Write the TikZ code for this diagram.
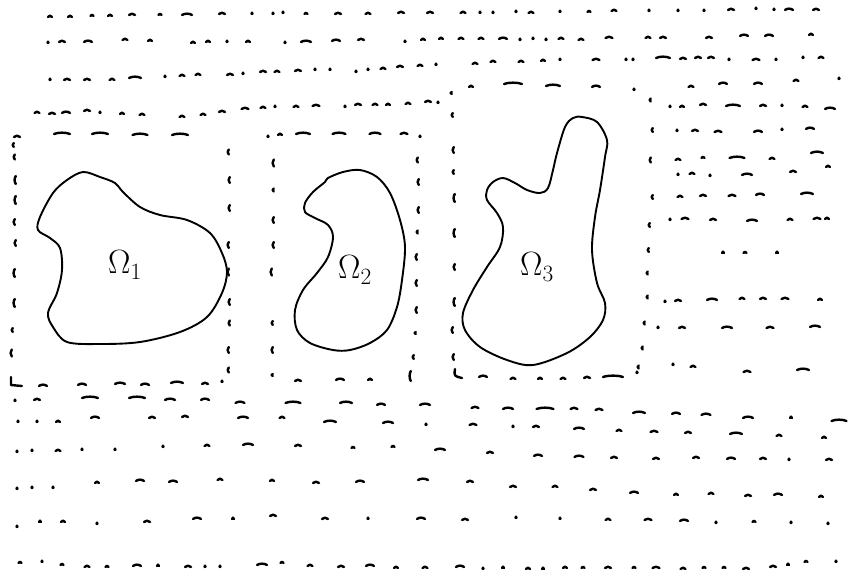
\documentclass[tikz,border=0pt]{standalone}
\begin{document}
\begin{tikzpicture}[x=1pt,y=-1pt,
  mk/.style={line width=2.4pt,line cap=round,line join=round},
  outline/.style={line width=1.9pt,line join=round},
  lbl/.style={font=\fontsize{24}{28}\selectfont,inner sep=0pt}]
\useasboundingbox[fill=white] (0,0) rectangle (850,571);
% ---------- horizontal dash marks (x/y/width) ----------
\foreach \x/\y/\w in {
 % row 1
 50/17/4, 70/17/4, 92/16/3, 110/16/4, 132/15/6, 160/15/3, 187/15/10, 222/14/6, 252/14/1, 273/14/1, 283/13/1, 306/14/3, 338/14/6, 368/14/5, 401/13/6, 430/13/6, 463/13/5, 480/13/1, 493/13/1, 516/12/1, 531/13/5, 560/12/1, 589/12/3, 614/11/5, 649/11/1, 678/11/1, 704/11/1, 731/10/6, 756/9/1, 774/10/1, 789/10/8, 816/10/6,
 % row 2
 48/43/1, 62/42/6, 88/42/8, 125/40/5, 150/41/4, 193/43/4, 208/42/4, 227/42/1, 248/42/4, 285/43/1, 306/42/10, 336/41/8, 361/40/6, 405/42/1, 423/40/4, 441/39/4, 461/39/5, 481/39/5, 503/39/8, 520/40/1, 533/39/1, 546/40/1, 561/39/5, 581/40/5, 609/38/7, 648/38/5, 663/38/6, 709/38/6, 744/36/8, 769/36/8, 811/35/4,
 % row 3
 50/80/1, 67/80/6, 87/80/6, 112/80/5, 135/78/12, 165/77/1, 182/76/5, 198/75/5, 230/75/6, 243/74/1, 263/72/6, 277/72/5, 298/71/6, 315/70/1, 330/70/1, 356/72/1, 368/70/1, 383/69/5, 400/67/6, 420/66/5, 436/65/1, 475/64/5, 493/62/5, 521/62/5, 543/61/4, 560/60/1, 596/60/7, 626/60/1, 633/60/1, 663/58/14, 683/59/6, 698/58/6, 711/58/6, 729/60/1, 756/60/7, 776/60/1, 803/58/1, 821/58/5,
 % row 4 left
 37/113/5, 52/114/6, 66/113/8, 87/111/6, 100/113/1, 122/114/4, 142/115/5, 182/117/5, 203/115/5, 222/112/6, 245/109/7, 263/108/5, 275/107/1, 296/107/5, 316/106/7, 345/107/1, 358/105/6, 375/105/5, 388/105/4, 408/104/5, 428/102/6, 438/103/1,
 % row 4 right
 471/87/4, 513/84/18, 553/86/14, 596/87/8, 634/90/1, 691/87/5, 723/84/8, 758/84/8, 796/81/5, 839/79/1,
 % right region
 670/107/1, 682/107/4, 703/105/6, 733/106/14, 763/106/6, 782/106/1, 805/107/5, 830/109/10,
 677/131/1, 695/131/6, 718/132/7, 758/132/8, 782/130/1, 810/129/8,
 678/160/5, 703/158/3, 737/158/15, 772/159/5, 817/153/12,
 678/175/1, 692/174/5, 710/176/1, 747/175/10, 793/172/6, 828/167/4,
 680/197/5, 703/196/6, 732/196/7, 760/195/8, 807/194/12,
 670/220/1, 685/219/7, 713/220/6, 752/221/10, 790/220/5, 817/219/7, 827/219/4,
 723/253/2, 745/253/3, 777/253/2,
 665/302/1, 678/301/6, 712/300/10, 742/299/5, 763/299/6, 785/299/7, 820/300/4,
 658/328/1, 682/328/6, 727/328/10, 770/328/7, 815/327/10,
 673/365/1, 693/367/5, 747/372/7, 803/370/12,
 % lower row B
 15/401/1, 37/400/6, 90/398/16, 137/398/16, 170/400/10, 205/400/8, 240/403/9, 293/403/15, 346/403/12, 381/405/8, 425/405/10, 475/408/7, 508/409/10, 545/409/17, 574/409/7, 599/410/7, 639/413/12, 676/414/8, 706/415/9, 748/418/10, 791/418/2, 839/421/15,
 % row C
 18/422/1, 37/422/1, 58/422/4, 95/418/8, 152/418/6, 185/417/6, 243/418/10, 282/418/5, 330/422/12, 388/423/10, 426/425/1, 473/425/7, 513/427/1, 536/427/6, 579/429/10, 619/431/5, 654/432/7, 688/433/6, 736/434/12, 779/436/5, 824/438/4,
 % row D
 17/452/1, 32/451/1, 58/451/5, 82/450/1, 115/450/1, 163/447/1, 207/446/5, 248/445/10, 298/446/6, 353/448/3, 393/447/3, 440/450/10, 490/453/6, 538/456/8, 579/457/9, 614/458/6, 656/459/6, 696/458/6, 731/459/8, 763/459/6, 789/460/1, 829/460/6,
 % row E
 17/489/1, 32/488/1, 53/488/1, 97/483/4, 140/481/8, 173/482/8, 220/480/5, 272/481/4, 316/483/6, 360/482/8, 423/480/10, 470/482/6, 513/487/6, 555/487/5, 593/490/6, 634/493/8, 676/495/4, 711/494/5, 748/496/6, 778/495/8, 821/497/4,
 % row F
 17/527/1, 40/522/2, 63/522/4, 97/524/1, 147/522/6, 197/519/8, 233/519/2, 273/516/6, 325/519/6, 368/519/1, 421/519/8, 465/520/6, 516/518/1, 560/519/1, 608/520/5, 648/520/7, 684/521/8, 716/523/1, 754/522/3, 791/523/1, 828/524/1,
 % row G
 20/563/3, 42/562/1, 62/565/3, 87/567/5, 107/567/3, 137/566/8, 158/566/2, 188/567/6, 205/567/1, 220/567/1, 262/565/10, 282/563/3, 310/566/5, 341/567/6, 370/566/8, 396/568/4, 425/568/5, 460/567/8, 483/569/1, 503/568/2, 528/569/4, 543/569/2, 565/568/4, 583/568/3, 608/568/6, 634/568/3, 656/568/7, 683/569/5, 704/568/3, 724/568/3, 746/569/6, 773/567/6, 788/565/2, 806/562/3, 836/562/1,
 % box 1 top and bottom
 17/137/6, 62/134/16, 100/134/16, 140/135/15, 180/135/16,
 43/386/8, 82/385/8, 120/384/10, 145/385/8, 177/383/12, 205/384/6, 222/382/1,
 % box 2 top and bottom
 268/137/1, 280/135/4, 303/134/14, 339/134/13, 375/134/11, 404/134/7, 420/137/1,
 298/381/6, 340/380/8, 370/380/4,
 % box 3 bottom
 483/377/8, 513/379/5, 540/379/4, 563/379/5, 587/378/6, 613/377/20, 637/373/1}
 {\draw[mk] (\x-\w/2,\y) .. controls (\x-\w/4,\y-1.8) and (\x+\w/4,\y-1.8) .. (\x+\w/2,\y);}
% ---------- vertical box-edge marks (x/y/height) ----------
\foreach \x/\y/\h in {
 13/145/4, 14/157/5, 15/180/8, 15/200/8, 14/222/6, 15/243/6, 14/273/8, 14/303/8, 12/330/4, 11/353/7,
 228/152/5, 229/180/6, 229/208/6, 228/245/6, 228/272/7, 229/302/6, 229/323/5, 228/350/6, 228/370/5,
 273/163/7, 273/190/3, 273/220/6, 273/245/6, 271/272/7, 272/323/4, 272/350/6, 272/375/2,
 417/160/5, 418/182/6, 418/210/6, 417/232/3, 416/257/6, 416/283/6, 416/310/6, 415/333/2, 413/357/4, 410/376/10,
 451/93/2, 452/115/4, 453/150/6, 453/172/4, 454/198/8, 454/233/8, 454/267/6, 454/302/8, 452/330/6, 453/357/6,
 650/100/3, 652/130/4, 650/160/5, 652/197/4, 649/225/4, 648/250/4, 647/273/3, 647/297/3, 644/323/3, 642/348/3, 638/367/3}
 {\draw[mk] (\x+0.8,\y-\h/2) .. controls (\x-0.8,\y-\h/4) and (\x-0.8,\y+\h/4) .. (\x+0.8,\y+\h/2);}
% box corners
\draw[mk] (11,377) -- (11,385) -- (22,386);
\draw[mk] (455,369) .. controls (454,376) .. (462,378);
% ---------- blobs ----------
\draw[outline] plot[smooth cycle,tension=0.55] coordinates {
 (83,172) (100,177) (115,183) (123,192) (140,207) (160,215) (187,220) (210,233) (222,253) (227,272)
 (222,293) (207,317) (180,332) (140,342) (100,344) (67,342) (53,327) (48,313) (57,293) (62,270)
 (60,248) (50,238) (38,230) (40,217) (53,193) (67,180)};
\draw[outline] plot[smooth cycle,tension=0.55] coordinates {
 (328,178) (343,172) (360,170) (377,177) (390,193) (400,220) (405,247) (402,280) (397,307) (387,330)
 (370,343) (350,350) (333,350) (310,343) (297,330) (295,310) (303,290) (317,273) (328,257) (333,237)
 (328,225) (315,218) (305,212) (305,203) (313,192) (325,182)};
\draw[outline] plot[smooth cycle,tension=0.55] coordinates {
 (582,117) (597,122) (607,140) (605,157) (600,190) (595,217) (592,250) (597,283) (605,303) (603,320)
 (590,337) (567,353) (533,365) (507,360) (480,347) (465,330) (463,313) (473,290) (487,267) (500,247)
 (503,227) (497,213) (487,200) (487,190) (493,182) (503,178) (515,183) (527,190) (540,193) (548,188)
 (553,170) (557,153) (565,127) (573,118)};
% ---------- labels ----------
\node[lbl] (l1) at (125,265) {\scalebox{1.35}{$\Omega_1$}};
\node[lbl] (l2) at (355,270) {\scalebox{1.35}{$\Omega_2$}};
\node[lbl] (l3) at (537,267) {\scalebox{1.35}{$\Omega_3$}};
\end{tikzpicture}
\end{document}
